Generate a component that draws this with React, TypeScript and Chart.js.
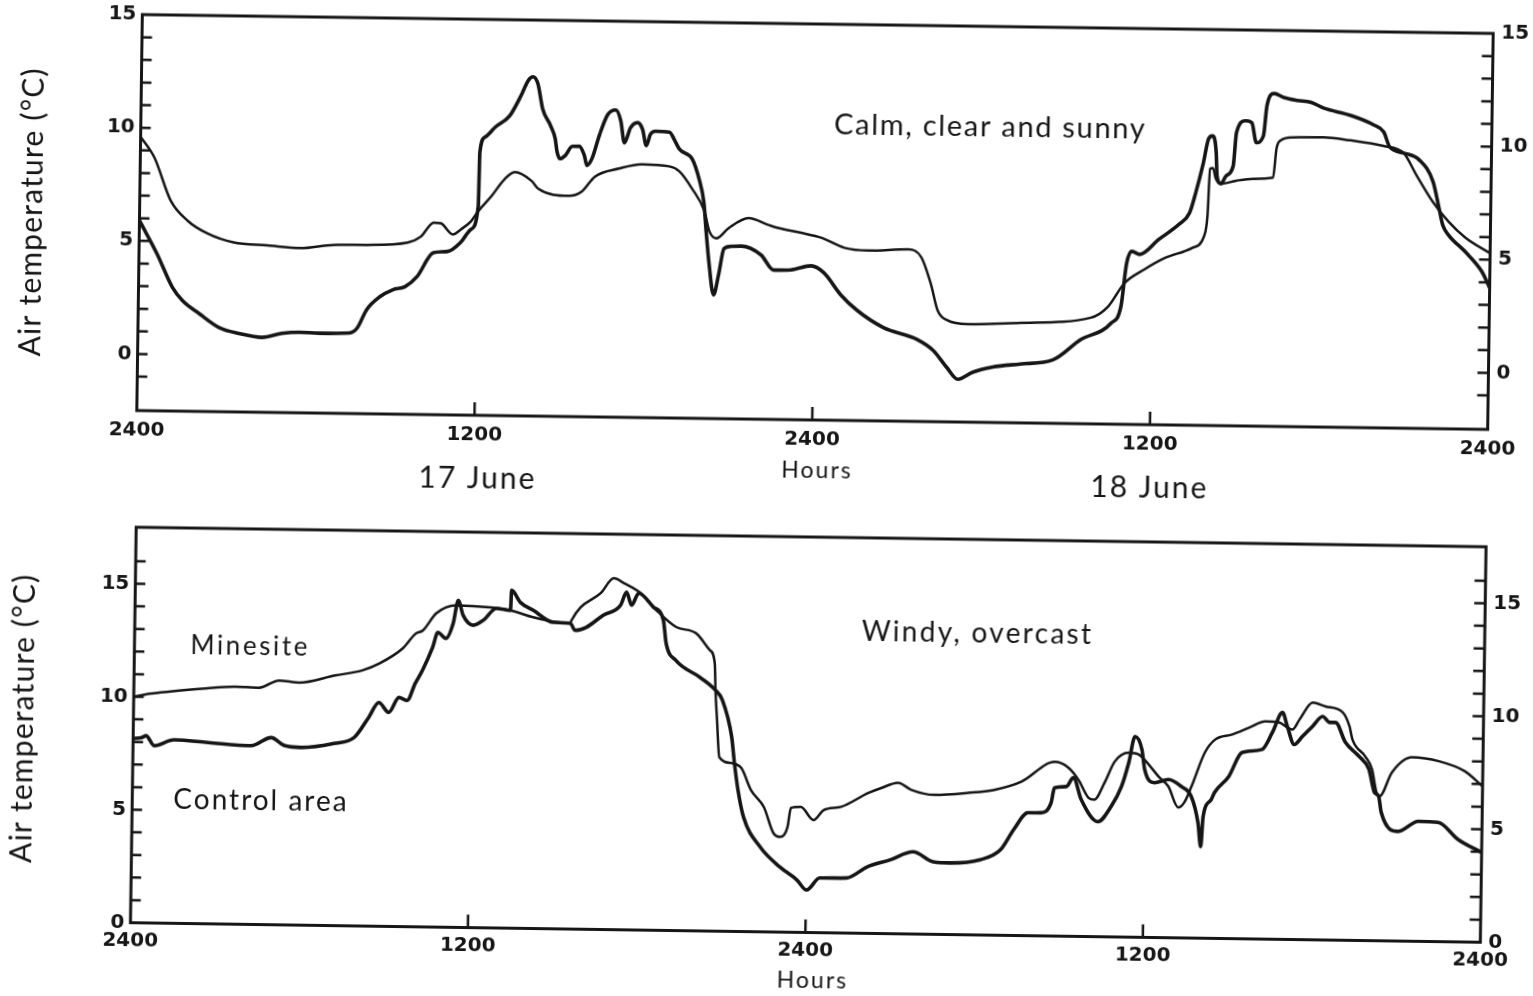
import React, { useEffect, useRef } from 'react';
import { Chart, registerables } from 'chart.js';

Chart.register(...registerables);

const INK = '#161616';
const FONT = 'Lato, "Open Sans", sans-serif';
const TICK_FONT = '"DejaVu Sans", Lato, sans-serif';

// Shared axis labels
const HOUR_TICKS = [0, 12, 24, 36, 48];
const HOUR_LABELS = ['2400', '1200', '2400', '1200', '2400'];
const TEMP_LABELS = [0, 5, 10, 15];

// ---- Upper panel: calm, clear and sunny (17–18 June), hours since 2400 on 16 June ----
const CALM_MINESITE_H = [0, 0.5, 1.1, 1.71, 2.42, 3.35, 4.56, 5.73, 6.9, 8.11, 9.54, 10.0, 10.46, 10.71, 11.14, 11.42, 11.78, 12.03, 12.49, 12.95, 13.31, 13.91, 14.16, 15.23, 15.69, 16.16, 17.01, 17.83, 18.79, 19.15, 19.61, 20.07, 20.25, 20.5, 20.93, 21.64, 22.35, 22.7, 23.52, 24.23, 25.05, 25.91, 27.33, 27.79, 28.15, 28.4, 28.75, 29.47, 31.35, 33.84, 34.45, 35.02, 35.73, 36.44, 37.4, 37.83, 37.94, 38.01, 38.11, 38.22, 38.4, 38.93, 39.54, 40.25, 40.36, 40.5, 40.96, 42.03, 42.95, 44.16, 44.88, 45.34, 45.94, 46.51, 47.12, 48];
const CALM_MINESITE_T = [9.6, 8.69, 6.8, 5.92, 5.37, 4.99, 4.88, 4.78, 4.94, 4.96, 5.09, 5.36, 5.99, 5.96, 5.48, 5.7, 6.07, 6.52, 7.19, 7.95, 8.27, 7.89, 7.54, 7.25, 7.44, 8.12, 8.49, 8.69, 8.62, 8.41, 7.66, 6.65, 5.78, 5.47, 5.92, 6.38, 6.09, 5.96, 5.76, 5.56, 5.13, 5.02, 5.1, 4.76, 3.57, 2.42, 1.99, 1.83, 1.92, 2.19, 2.69, 3.73, 4.36, 4.87, 5.33, 5.87, 6.76, 8.84, 8.88, 8.4, 8.19, 8.33, 8.43, 8.49, 9.78, 10.14, 10.28, 10.3, 10.19, 9.96, 9.66, 8.7, 7.52, 6.65, 5.95, 5.28];

const CALM_CONTROL_H = [0, 0.64, 1.21, 1.57, 2.17, 2.88, 3.59, 4.41, 5.12, 5.73, 6.44, 7.51, 7.79, 8.11, 8.58, 9.04, 9.47, 9.89, 10.46, 10.96, 11.42, 11.78, 12.03, 12.06, 12.24, 12.6, 13.1, 13.49, 13.74, 13.91, 14.09, 14.27, 14.56, 14.73, 14.8, 14.91, 15.09, 15.34, 15.59, 15.77, 15.87, 16.05, 16.3, 16.58, 16.87, 17.05, 17.19, 17.4, 17.65, 17.83, 17.97, 18.11, 18.29, 18.79, 18.97, 19.15, 19.61, 19.86, 20.04, 20.14, 20.25, 20.43, 20.6, 20.78, 21.03, 21.39, 22.1, 22.56, 23.17, 23.88, 24.34, 24.95, 25.55, 26.48, 27.69, 28.26, 28.75, 29.15, 29.68, 30.39, 31.35, 32.53, 33.49, 34.56, 34.91, 35.09, 35.27, 35.55, 36.23, 36.94, 37.3, 37.51, 37.76, 37.94, 38.08, 38.22, 38.26, 38.4, 38.58, 38.83, 38.93, 39.25, 39.47, 39.64, 39.89, 40.0, 40.25, 40.6, 41.07, 41.57, 42.03, 42.95, 43.81, 44.16, 44.38, 44.88, 45.44, 45.94, 46.16, 46.3, 46.51, 47.12, 47.72, 48];
const CALM_CONTROL_T = [5.9, 4.44, 2.95, 2.38, 1.82, 1.22, 0.97, 0.81, 1.0, 1.06, 1.03, 1.06, 1.29, 2.09, 2.68, 3.0, 3.14, 3.59, 4.66, 4.72, 5.13, 5.71, 6.74, 9.13, 9.8, 10.25, 10.75, 11.64, 12.32, 12.49, 12.18, 11.08, 10.34, 9.77, 9.2, 8.89, 9.03, 9.44, 9.45, 9.06, 8.61, 8.93, 9.96, 10.86, 11.08, 10.6, 9.63, 10.3, 10.53, 10.23, 9.52, 10.02, 10.16, 10.13, 9.78, 9.38, 8.95, 8.08, 7.07, 5.74, 4.42, 2.97, 3.86, 5.02, 5.12, 5.14, 4.76, 4.1, 4.12, 4.31, 4.01, 3.05, 2.36, 1.63, 1.12, 0.65, -0.09, -0.61, -0.29, -0.05, 0.1, 0.31, 1.21, 1.95, 2.71, 4.61, 5.15, 5.02, 5.7, 6.38, 6.88, 7.77, 9.05, 10.16, 10.3, 9.55, 8.54, 8.19, 8.54, 8.99, 10.46, 10.99, 10.91, 10.03, 10.34, 11.67, 12.21, 12.04, 11.92, 11.84, 11.59, 11.3, 10.88, 10.58, 9.92, 9.66, 9.36, 8.4, 7.26, 6.51, 6.07, 5.33, 4.46, 3.76];

// ---- Lower panel: windy, overcast ----
const WINDY_MINESITE_H = [0, 0.64, 2.42, 3.59, 4.45, 5.16, 5.87, 7.15, 8.11, 8.72, 9.54, 10.0, 10.25, 10.71, 11.42, 12.63, 13.35, 14.16, 14.98, 15.48, 15.52, 15.84, 16.55, 17.01, 17.37, 17.97, 18.54, 19.25, 19.96, 20.46, 20.64, 20.68, 20.75, 20.85, 21.28, 21.64, 21.99, 22.46, 22.81, 23.06, 23.31, 23.42, 23.77, 24.23, 24.59, 25.2, 26.16, 26.62, 27.22, 27.69, 28.51, 29.72, 30.64, 31.6, 32.78, 33.27, 33.63, 33.99, 34.2, 34.56, 34.91, 35.41, 35.77, 36.12, 36.48, 36.83, 37.19, 37.4, 37.65, 38.11, 38.47, 39.07, 39.68, 40.25, 40.75, 41.03, 41.21, 41.46, 41.92, 42.38, 42.99, 43.24, 43.35, 43.81, 44.06, 44.23, 44.34, 44.77, 45.48, 46.44, 47.37, 48];
const WINDY_MINESITE_T = [10.0, 10.15, 10.4, 10.51, 10.48, 10.81, 10.73, 11.07, 11.31, 11.63, 12.31, 12.98, 13.12, 13.88, 14.25, 14.18, 14.06, 13.77, 13.57, 13.53, 13.65, 14.24, 14.88, 15.55, 15.34, 14.91, 14.16, 13.43, 13.17, 12.43, 11.86, 10.66, 9.34, 7.7, 7.45, 7.23, 6.27, 5.52, 4.38, 4.21, 4.65, 5.5, 5.55, 4.98, 5.43, 5.58, 6.21, 6.44, 6.68, 6.38, 6.17, 6.28, 6.43, 6.81, 7.71, 7.46, 6.93, 6.15, 6.06, 6.82, 7.76, 8.16, 8.08, 7.65, 7.12, 6.69, 5.77, 5.99, 6.7, 8.22, 8.8, 9.03, 9.35, 9.63, 9.59, 9.38, 9.29, 9.74, 10.5, 10.33, 10.08, 9.46, 8.89, 8.15, 7.58, 6.57, 6.39, 7.46, 8.14, 7.98, 7.55, 6.9];

const WINDY_CONTROL_H = [0, 0.3, 0.46, 0.75, 1.46, 2.67, 4.2, 4.91, 5.37, 5.98, 7.15, 7.86, 8.36, 8.72, 9.07, 9.43, 9.72, 10.0, 10.25, 10.6, 10.78, 11.07, 11.32, 11.49, 11.67, 12.03, 12.38, 12.85, 13.35, 13.38, 13.7, 14.16, 14.88, 15.48, 15.66, 16.05, 16.65, 17.26, 17.47, 17.65, 17.9, 18.43, 18.79, 18.9, 19.25, 20.11, 20.68, 20.93, 21.28, 21.39, 21.53, 21.74, 22.35, 23.06, 23.67, 24.02, 24.48, 24.95, 25.44, 26.16, 26.98, 27.79, 28.51, 29.11, 30.18, 30.89, 31.35, 31.85, 32.31, 32.67, 32.78, 33.2, 33.45, 33.74, 34.34, 34.8, 35.16, 35.41, 35.62, 35.87, 35.98, 36.33, 36.83, 37.3, 37.65, 37.9, 38.01, 38.08, 38.36, 38.47, 38.97, 39.43, 40.14, 40.5, 40.85, 41.03, 41.28, 41.57, 41.92, 42.28, 42.53, 42.74, 43.1, 43.59, 43.95, 44.16, 44.31, 44.41, 45.02, 45.73, 46.44, 47.15, 48];
const WINDY_CONTROL_T = [8.15, 8.2, 8.28, 7.85, 8.12, 8.02, 7.91, 8.28, 7.94, 7.86, 8.06, 8.34, 9.23, 9.9, 9.47, 10.14, 10.01, 10.77, 11.35, 12.37, 13.04, 12.78, 13.45, 14.47, 13.81, 13.38, 13.6, 14.14, 14.06, 14.95, 14.42, 14.08, 13.56, 13.53, 13.22, 13.36, 13.91, 14.36, 14.94, 14.37, 14.9, 14.3, 13.73, 12.71, 11.96, 11.23, 10.66, 10.23, 8.6, 7.45, 6.26, 5.07, 3.75, 2.88, 2.32, 1.88, 2.42, 2.43, 2.44, 2.94, 3.27, 3.64, 3.21, 3.17, 3.33, 3.78, 4.68, 5.44, 5.45, 5.9, 6.56, 6.62, 7.02, 6.05, 5.09, 5.76, 6.65, 7.72, 8.88, 8.31, 7.42, 6.85, 7.0, 6.69, 6.26, 5.11, 4.05, 5.38, 6.14, 6.45, 7.17, 8.24, 8.39, 9.15, 10.04, 9.42, 8.63, 8.99, 9.44, 9.89, 9.63, 9.63, 8.76, 8.15, 7.58, 6.56, 6.39, 5.68, 4.85, 5.31, 5.28, 4.54, 3.98];

type TextItem = { text: string; x: number; y: number; size: number; spacing: number; rotate?: boolean };
type Series = { label: string; h: number[]; t: number[]; width: number };
type PanelSpec = {
  top: number;
  width: number;
  height: number;
  plot: { left: number; top: number; right: number; bottom: number };
  tilt: number;
  yMin: number;
  yMax: number;
  yMarks: number[];
  xMarks: number[];
  xPad: number;
  series: Series[];
  texts: TextItem[];
};

const range = (a: number, b: number) => Array.from({ length: b - a + 1 }, (_, i) => a + i);

const UPPER: PanelSpec = {
  top: 0,
  width: 1533,
  height: 510,
  plot: { left: 139.5, top: 24, right: 1490.5, bottom: 420 },
  tilt: 0.8,
  yMin: -2.5,
  yMax: 15,
  yMarks: range(-1, 14),
  xMarks: [12, 24, 36],
  xPad: 8,
  series: [
    { label: 'Minesite', h: CALM_MINESITE_H, t: CALM_MINESITE_T, width: 2.5 },
    { label: 'Control area', h: CALM_CONTROL_H, t: CALM_CONTROL_T, width: 3.6 },
  ],
  texts: [
    { text: 'Air temperature (°C)', x: 42, y: 222.8, size: 30, spacing: 1.2, rotate: true },
    { text: 'Calm, clear and sunny', x: 989, y: 134, size: 29, spacing: 1.7 },
    { text: '17 June', x: 481, y: 493, size: 30, spacing: 2 },
    { text: 'Hours', x: 820.5, y: 478, size: 23, spacing: 2 },
    { text: '18 June', x: 1153, y: 493, size: 30, spacing: 2 },
  ],
};

const LOWER: PanelSpec = {
  top: 510,
  width: 1533,
  height: 486,
  plot: { left: 133.25, top: 27, right: 1483.25, bottom: 422.5 },
  tilt: 0.83,
  yMin: 0,
  yMax: 17.5,
  yMarks: range(1, 16),
  xMarks: [12, 24, 36],
  xPad: 6,
  series: [
    { label: 'Minesite', h: WINDY_MINESITE_H, t: WINDY_MINESITE_T, width: 2.5 },
    { label: 'Control area', h: WINDY_CONTROL_H, t: WINDY_CONTROL_T, width: 3.6 },
  ],
  texts: [
    { text: 'Air temperature (°C)', x: 33, y: 219.7, size: 30, spacing: 1.2, rotate: true },
    { text: 'Minesite', x: 249, y: 153, size: 26, spacing: 2.6 },
    { text: 'Control area', x: 262, y: 308, size: 28, spacing: 2 },
    { text: 'Windy, overcast', x: 976, y: 130, size: 28, spacing: 2.3 },
    { text: 'Hours', x: 816, y: 478, size: 23, spacing: 2 },
  ],
};

function points(h: number[], t: number[]) {
  return h.map((x, i) => ({ x, y: t[i] }));
}

function makeOverlay(spec: PanelSpec) {
  return {
    id: 'panelOverlay',
    afterDraw(chart: any) {
      const { ctx, chartArea: a, scales } = chart;
      ctx.save();
      ctx.strokeStyle = INK;
      ctx.lineWidth = 3;
      ctx.strokeRect(a.left, a.top, a.right - a.left, a.bottom - a.top);
      ctx.lineWidth = 2.5;
      ctx.beginPath();
      for (const v of spec.yMarks) {
        const yl = scales.y.getPixelForValue(v);
        ctx.moveTo(a.left, yl);
        ctx.lineTo(a.left + 10, yl);
        const yr = scales.y2.getPixelForValue(v);
        ctx.moveTo(a.right, yr);
        ctx.lineTo(a.right - 11, yr);
      }
      for (const v of spec.xMarks) {
        const px = scales.x.getPixelForValue(v);
        ctx.moveTo(px, a.bottom);
        ctx.lineTo(px, a.bottom - 13);
      }
      ctx.stroke();
      ctx.fillStyle = INK;
      ctx.textAlign = 'center';
      ctx.textBaseline = 'alphabetic';
      for (const t of spec.texts) {
        ctx.save();
        ctx.font = `${t.size}px ${FONT}`;
        ctx.letterSpacing = `${t.spacing}px`;
        ctx.translate(t.x, t.y);
        if (t.rotate) ctx.rotate(-Math.PI / 2);
        ctx.fillText(t.text, 0, 0);
        ctx.restore();
      }
      ctx.restore();
    },
  };
}

function makeConfig(spec: PanelSpec): any {
  const p = spec.plot;
  const tickFont = { family: TICK_FONT, size: 20, weight: 'bold' as const };
  const tempLabel = (v: any) => (TEMP_LABELS.includes(Number(v)) ? String(v) : '');
  const yAxis = (position: 'left' | 'right', width: number) => ({
    type: 'linear',
    position,
    min: spec.yMin,
    max: spec.yMax,
    grid: { display: false, drawTicks: false },
    border: { display: false },
    ticks: { stepSize: 5, padding: position === 'left' ? 6 : 8, color: INK, font: tickFont, callback: tempLabel },
    afterFit: (s: any) => {
      s.width = width;
    },
  });
  return {
    type: 'line',
    data: {
      datasets: spec.series.map((s) => ({
        label: s.label,
        data: points(s.h, s.t),
        borderColor: INK,
        backgroundColor: INK,
        borderWidth: s.width,
        pointRadius: 0,
        pointHoverRadius: 0,
        fill: false,
        cubicInterpolationMode: 'monotone',
        borderJoinStyle: 'round',
        borderCapStyle: 'round',
        xAxisID: 'x',
        yAxisID: 'y',
      })),
    },
    options: {
      responsive: false,
      maintainAspectRatio: false,
      animation: false,
      events: [],
      layout: { padding: { top: p.top, left: 0, right: 0, bottom: 0 } },
      plugins: { legend: { display: false }, tooltip: { enabled: false } },
      scales: {
        x: {
          type: 'linear',
          position: 'bottom',
          min: 0,
          max: 48,
          grid: { display: false, drawTicks: false },
          border: { display: false },
          ticks: {
            stepSize: 12,
            autoSkip: false,
            maxRotation: 0,
            padding: spec.xPad,
            color: INK,
            font: tickFont,
            callback: (v: any) => {
              const i = HOUR_TICKS.indexOf(Number(v));
              return i >= 0 ? HOUR_LABELS[i] : '';
            },
          },
          afterFit: (s: any) => {
            s.height = spec.height - p.bottom;
          },
        },
        y: yAxis('left', p.left),
        y2: yAxis('right', spec.width - p.right),
      },
    },
    plugins: [makeOverlay(spec)],
  };
}

function Panel({ spec }: { spec: PanelSpec }) {
  const ref = useRef<HTMLCanvasElement>(null);
  useEffect(() => {
    if (!ref.current) return;
    const chart = new Chart(ref.current, makeConfig(spec));
    return () => chart.destroy();
  }, [spec]);
  const ox = (spec.plot.left + spec.plot.right) / 2;
  const oy = (spec.plot.top + spec.plot.bottom) / 2;
  return (
    <div
      style={{
        position: 'absolute',
        left: 0,
        top: spec.top,
        width: spec.width,
        height: spec.height,
        transform: `rotate(${spec.tilt}deg)`,
        transformOrigin: `${ox}px ${oy}px`,
      }}
    >
      <canvas
        ref={ref}
        width={spec.width}
        height={spec.height}
        style={{ display: 'block', width: spec.width, height: spec.height }}
      />
    </div>
  );
}

export default function App() {
  return (
    <div
      style={{
        position: 'absolute',
        left: 0,
        top: 0,
        width: 1533,
        height: 996,
        overflow: 'hidden',
        background: '#ffffff',
      }}
    >
      <Panel spec={UPPER} />
      <Panel spec={LOWER} />
    </div>
  );
}
